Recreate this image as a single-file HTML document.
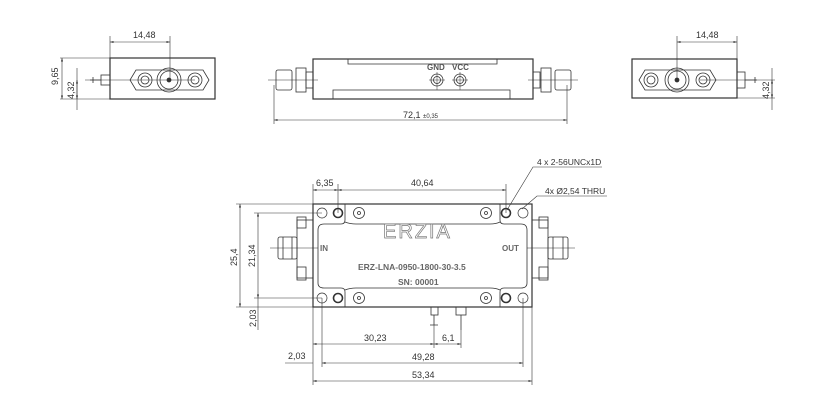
<!DOCTYPE html>
<html><head><meta charset="utf-8"><style>
html,body{margin:0;padding:0;background:#fff}
svg{display:block;font-family:"Liberation Sans",sans-serif;font-size:9px;fill:#333}
</style></head><body>
<svg width="834" height="415" viewBox="0 0 834 415" xmlns="http://www.w3.org/2000/svg">
<defs>
<marker id="a" viewBox="0 0 10 10" refX="10" refY="5" markerWidth="6" markerHeight="6" orient="auto-start-reverse"><path d="M0,2 L10,5 L0,8 z" fill="#333"/></marker>
</defs>
<g stroke="#333" fill="none" stroke-width="0.8">
<rect x="110" y="58" width="105" height="41" stroke-width="1.2"/>
<path d="M136,70 L203,70 L209,80 L203,90 L136,90 L130,80 Z"/>
<circle cx="145" cy="80" r="7"/><circle cx="145" cy="80" r="4"/>
<circle cx="169" cy="80" r="12"/><circle cx="169" cy="80" r="9"/><circle cx="169" cy="80" r="2" fill="#333"/>
<circle cx="195" cy="80" r="7"/><circle cx="195" cy="80" r="4"/>
<rect x="101" y="75" width="9" height="10"/><path d="M90,80 L101,80 M93,77 L93,83"/>
<line x1="85" y1="80" x2="195" y2="80" stroke-width="0.6"/>
<line x1="110" y1="36" x2="110" y2="58" stroke-width="0.6"/><line x1="170" y1="36" x2="170" y2="80" stroke-width="0.6"/>
<line x1="110" y1="42" x2="170" y2="42" marker-start="url(#a)" marker-end="url(#a)" stroke-width="0.6"/>
<line x1="60" y1="58" x2="110" y2="58" stroke-width="0.6"/><line x1="60" y1="99" x2="110" y2="99" stroke-width="0.6"/>
<line x1="62" y1="58" x2="62" y2="99" marker-start="url(#a)" marker-end="url(#a)" stroke-width="0.6"/>
<line x1="77" y1="68" x2="77" y2="110" stroke-width="0.6"/>
<line x1="77" y1="80" x2="77" y2="99" marker-start="url(#a)" marker-end="url(#a)" stroke-width="0.6"/>
<rect x="313" y="59" width="220" height="40" stroke-width="1.2"/>
<path d="M348,59 L348,64 L497,64 L497,59 M333,99 L333,90 L510,90 L510,99"/>
<circle cx="437" cy="80" r="6"/><circle cx="437" cy="80" r="3.5"/>
<circle cx="460" cy="80" r="6"/><circle cx="460" cy="80" r="3.5"/>
<path d="M437,72 L437,90 M429,80 L445,80 M460,72 L460,90 M452,80 L468,80" stroke-width="0.5"/>
<rect x="276" y="70" width="16" height="20" rx="2"/><rect x="296" y="68" width="10" height="24"/><rect x="306" y="72" width="7" height="16"/>
<rect x="555" y="70" width="16" height="20" rx="2"/><rect x="541" y="68" width="10" height="24"/><rect x="533" y="72" width="7" height="16"/>
<line x1="268" y1="80" x2="318" y2="80" stroke-width="0.5"/><line x1="528" y1="80" x2="578" y2="80" stroke-width="0.5"/>
<line x1="274" y1="85" x2="274" y2="124" stroke-width="0.6"/><line x1="567" y1="85" x2="567" y2="124" stroke-width="0.6"/>
<line x1="274" y1="120" x2="567" y2="120" marker-start="url(#a)" marker-end="url(#a)" stroke-width="0.6"/>
<rect x="632" y="59" width="105" height="39" stroke-width="1.2"/>
<path d="M645,70 L710,70 L716,80 L710,90 L645,90 L639,80 Z"/>
<circle cx="651" cy="80" r="7"/><circle cx="651" cy="80" r="4"/>
<circle cx="677" cy="80" r="12"/><circle cx="677" cy="80" r="9"/><circle cx="677" cy="80" r="2" fill="#333"/>
<circle cx="703" cy="80" r="7"/><circle cx="703" cy="80" r="4"/>
<rect x="737" y="72" width="8" height="16"/><path d="M745,80 L757,80 M755,77 L755,83"/>
<line x1="700" y1="80" x2="775" y2="80" stroke-width="0.6"/>
<line x1="677" y1="36" x2="677" y2="80" stroke-width="0.6"/><line x1="737" y1="36" x2="737" y2="59" stroke-width="0.6"/>
<line x1="677" y1="42" x2="737" y2="42" marker-start="url(#a)" marker-end="url(#a)" stroke-width="0.6"/>
<line x1="737" y1="98" x2="775" y2="98" stroke-width="0.6"/>
<line x1="772" y1="68" x2="772" y2="110" stroke-width="0.6"/>
<line x1="772" y1="80" x2="772" y2="98" marker-start="url(#a)" marker-end="url(#a)" stroke-width="0.6"/>
<rect x="313" y="204" width="219" height="103" stroke-width="1.2"/>
<path d="M345,204 L345,220 Q345,224 341,224 L324,224 Q318,224 318,230 L318,283 Q318,288 324,288 L341,288 Q345,288 345,292 L345,307 M345,222 Q350,224 356,224 L490,224 Q496,224 500,222 M500,204 L500,220 Q500,224 504,224 L521,224 Q527,224 527,230 L527,283 Q527,288 521,288 L504,288 Q500,288 500,292 L500,307 M345,290 Q350,288 356,288 L490,288 Q496,288 500,290"/>
<g stroke-width="0.7"><circle cx="322" cy="213" r="5"/><circle cx="523" cy="213" r="5"/><circle cx="322" cy="298" r="5"/><circle cx="523" cy="298" r="5"/></g>
<g stroke-width="1.6"><circle cx="338" cy="213" r="4.5"/><circle cx="506" cy="213" r="4.5"/><circle cx="338" cy="298" r="4.5"/><circle cx="506" cy="298" r="4.5"/></g>
<g><circle cx="359" cy="213" r="5.5"/><circle cx="359" cy="213" r="1.5"/><circle cx="486" cy="213" r="5.5"/><circle cx="486" cy="213" r="1.5"/><circle cx="359" cy="298" r="5.5"/><circle cx="359" cy="298" r="1.5"/><circle cx="486" cy="298" r="5.5"/><circle cx="486" cy="298" r="1.5"/></g>
<rect x="297" y="220" width="16" height="58"/><rect x="297" y="217" width="9" height="11"/><rect x="297" y="267" width="9" height="13"/>
<rect x="278" y="237" width="19" height="22" rx="2"/><path d="M283,237 L283,259 M292,237 L292,259"/>
<rect x="532" y="220" width="16" height="58"/><rect x="539" y="217" width="9" height="11"/><rect x="539" y="267" width="9" height="13"/>
<rect x="548" y="237" width="20" height="22" rx="2"/><path d="M553,237 L553,259 M563,237 L563,259"/>
<line x1="270" y1="248" x2="318" y2="248" stroke-width="0.5"/><line x1="527" y1="248" x2="575" y2="248" stroke-width="0.5"/>
<rect x="431" y="307" width="7" height="8"/><path d="M434,315 L434,325 M430,325 L438,325"/>
<rect x="456" y="307" width="10" height="8"/><path d="M461,315 L461,330"/>
<g stroke-width="0.6">
<line x1="313" y1="184" x2="313" y2="204"/><line x1="338" y1="184" x2="338" y2="213"/><line x1="506" y1="184" x2="506" y2="213"/>
<line x1="313" y1="190" x2="338" y2="190" marker-start="url(#a)" marker-end="url(#a)"/>
<line x1="338" y1="190" x2="506" y2="190" marker-start="url(#a)" marker-end="url(#a)"/>
<line x1="236" y1="204" x2="313" y2="204"/><line x1="236" y1="307" x2="313" y2="307"/>
<line x1="240" y1="204" x2="240" y2="307" marker-start="url(#a)" marker-end="url(#a)"/>
<line x1="254" y1="213" x2="322" y2="213"/><line x1="254" y1="298" x2="322" y2="298"/>
<line x1="258" y1="213" x2="258" y2="298" marker-start="url(#a)" marker-end="url(#a)"/>
<line x1="258" y1="298" x2="258" y2="330"/>
<line x1="313" y1="307" x2="313" y2="385"/><line x1="322" y1="298" x2="322" y2="367"/><line x1="523" y1="298" x2="523" y2="367"/><line x1="532" y1="307" x2="532" y2="385"/>
<line x1="434" y1="325" x2="434" y2="348"/><line x1="461" y1="330" x2="461" y2="348"/>
<line x1="313" y1="344" x2="434" y2="344" marker-start="url(#a)" marker-end="url(#a)"/>
<line x1="434" y1="344" x2="461" y2="344" marker-start="url(#a)" marker-end="url(#a)"/>
<line x1="285" y1="363" x2="313" y2="363"/>
<line x1="322" y1="363" x2="523" y2="363" marker-start="url(#a)" marker-end="url(#a)"/>
<line x1="313" y1="381" x2="532" y2="381" marker-start="url(#a)" marker-end="url(#a)"/>
<path d="M507,210 L533,167 L602,167"/><path d="M522,209 L537,196 L607,196"/>
</g>
</g>
<text x="133" y="38">14,48</text>
<text x="696" y="38">14,48</text>
<text transform="translate(58,85) rotate(-90)">9,65</text>
<text transform="translate(74,99) rotate(-90)">4,32</text>
<text transform="translate(769,99) rotate(-90)">4,32</text>
<text x="427" y="70" font-size="8" font-weight="bold" fill="#555">GND</text>
<text x="452" y="70" font-size="8" font-weight="bold" fill="#555">VCC</text>
<text x="403" y="118">72,1 <tspan font-size="6">±0,35</tspan></text>
<text x="316" y="186">6,35</text>
<text x="411" y="186">40,64</text>
<text x="537" y="165" font-size="8.5">4 x 2-56UNCx1D</text>
<text x="545" y="194" font-size="8.5">4x  Ø2,54 THRU</text>
<text x="383" y="238" font-size="20" fill="#fff" stroke="#777" stroke-width="0.7" letter-spacing="2">ERZIA</text>
<text x="320" y="251" font-weight="bold" fill="#666" font-size="8">IN</text>
<text x="502" y="251" font-weight="bold" fill="#666" font-size="8">OUT</text>
<text x="358" y="270" font-weight="bold" fill="#666" font-size="8.5">ERZ-LNA-0950-1800-30-3.5</text>
<text x="398" y="285" font-weight="bold" fill="#666" font-size="8.5">SN: 00001</text>
<text transform="translate(237,266) rotate(-90)">25,4</text>
<text transform="translate(255,267) rotate(-90)">21,34</text>
<text transform="translate(256,327) rotate(-90)">2,03</text>
<text x="364" y="341">30,23</text>
<text x="442" y="341">6,1</text>
<text x="288" y="359">2,03</text>
<text x="412" y="360">49,28</text>
<text x="412" y="378">53,34</text>
</svg>
</body></html>
